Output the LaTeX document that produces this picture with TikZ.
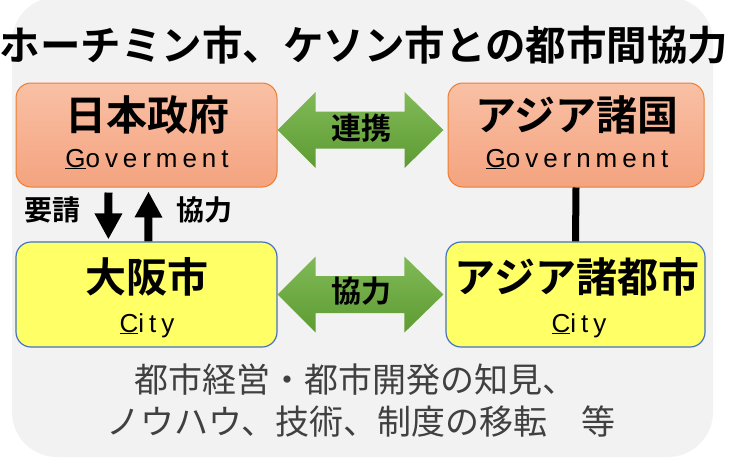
\documentclass[tikz,border=0pt]{standalone}
\usepackage{fontspec}
\usetikzlibrary{arrows.meta,calc}
\newfontfamily\cjk{Noto Sans CJK JP}[BoldFont={Noto Sans CJK JP Black}]
\newfontfamily\cjkb{Noto Sans CJK JP Bold}
\newfontfamily\latsp{Liberation Sans}[LetterSpace=19]
\definecolor{bggray}{HTML}{F2F2F2}
\definecolor{orgtop}{HTML}{F9C0A5}
\definecolor{orgbot}{HTML}{F4A37F}
\definecolor{orgline}{HTML}{ED7D31}
\definecolor{yelfill}{HTML}{FFFF66}
\definecolor{blueline}{HTML}{4472C4}
\definecolor{grntop}{HTML}{80BA58}
\definecolor{grnbot}{HTML}{5E9B32}
\definecolor{txtgray}{HTML}{404040}
\begin{document}
\begin{tikzpicture}[x=1pt,y=-1pt,
  govbox/.style={draw=orgline, line width=1pt, rounded corners=15pt, top color=orgtop, bottom color=orgbot, minimum width=261pt, minimum height=104pt, inner sep=0pt},
  citybox/.style={draw=blueline, line width=1.2pt, rounded corners=15pt, fill=yelfill, minimum width=261pt, minimum height=105pt, inner sep=0pt},
  headtxt/.style={font=\cjkb\fontsize{41}{41}\selectfont, inner sep=0pt, anchor=base},
  latintxt/.style={font=\latsp\fontsize{26}{26}\selectfont, inner sep=0pt, anchor=base},
  arrowtxt/.style={font=\cjkb\fontsize{30}{30}\selectfont, inner sep=0pt},
  sidetxt/.style={font=\cjkb\fontsize{28}{28}\selectfont, inner sep=0pt},
  titletxt/.style={font=\cjkb\fontsize{40.5}{40.5}\selectfont, inner sep=0pt},
  graytxt/.style={font=\cjk\fontsize{34}{34}\selectfont, text=txtgray, inner sep=0pt},
  greenarrow/.style={top color=grntop, bottom color=grnbot},
  blackarrow/.style={line width=8pt, -{Triangle[width=26pt,length=26pt]}}
]
\useasboundingbox (0,0) rectangle (730,461);
\fill[bggray, rounded corners=45pt] (12,-3) rectangle (713,457);

% title
\node[titletxt] (title) at (364,45) {ホーチミン市、ケソン市との都市間協力};

% boxes
\node[govbox] (gov) at (146.5,135) {};
\node[govbox, minimum width=256pt] (asg) at (576,135) {};
\node[citybox] (osaka) at (146.5,294.5) {};
\node[citybox, minimum width=259pt] (asc) at (575.5,294.5) {};

% box texts
\node[headtxt] (govh) at (147,130) {日本政府};
\node[latintxt] (govl) at (147,167) {\underline{G}overment};
\node[headtxt] (asgh) at (577,130) {アジア諸国};
\node[latintxt] (asgl) at (577,167) {\underline{G}overnment};
\node[headtxt] (osah) at (146.5,292) {大阪市};
\node[latintxt] (osal) at (147,332) {\underline{C}ity};
\node[headtxt] (asch) at (577,292) {アジア諸都市};
\node[latintxt] (ascl) at (579,332) {\underline{C}ity};

% green double arrows
\coordinate (g1) at ($(gov.east)+(0,-5)$);
\coordinate (g2) at ($(asg.west)+(-4,-5)$);
\shade[greenarrow] (g1) -- ++(38,-38) -- ++(0,19.5) -- ($(g2)+(-39,-18.5)$) -- ++(0,-19.5) -- (g2) -- ++(-39,38) -- ++(0,-19.5) -- ($(g1)+(38,18.5)$) -- ++(0,19.5) -- cycle;
\node[arrowtxt] (renkei) at (361,128) {連携};

\coordinate (g3) at (osaka.east);
\coordinate (g4) at ($(asc.west)+(-2,0)$);
\shade[greenarrow] (g3) -- ++(38,-38) -- ++(0,19.5) -- ($(g4)+(-39,-18.5)$) -- ++(0,-19.5) -- (g4) -- ++(-39,38) -- ++(0,-19.5) -- ($(g3)+(38,18.5)$) -- ++(0,19.5) -- cycle;
\node[arrowtxt] (kyoryoku) at (361,291) {協力};

% black arrows
\coordinate (d1) at ($(gov.south west)+(93,5)$);
\coordinate (d2) at ($(osaka.north west)+(93,-2)$);
\draw[blackarrow] (d1) -- (d2);
\coordinate (u1) at ($(osaka.north west)+(133,0)$);
\coordinate (u2) at ($(gov.south west)+(133,4)$);
\draw[blackarrow] (u1) -- (u2);
\node[sidetxt] (yosei) at (52,210) {要請};
\node[sidetxt] (kyo2) at (204,210) {協力};

% vertical line
\draw[line width=7pt] (asg.south) -- (asc.north);

% bottom text
\node[graytxt] (t1) at (355,380) {都市経営・都市開発の知見、};
\node[graytxt] (t2) at (361,422) {ノウハウ、技術、制度の移転　等};
\end{tikzpicture}
\end{document}
